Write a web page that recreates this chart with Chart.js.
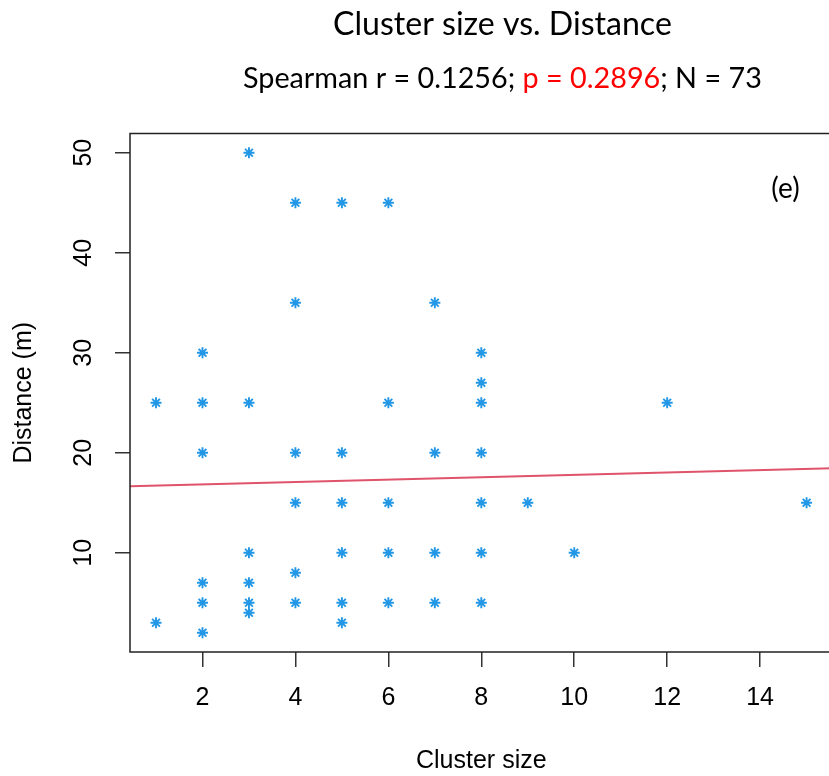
<!DOCTYPE html>
<html lang="en">
<head>
<meta charset="UTF-8">
<meta name="viewport" content="width=device-width, initial-scale=1.0">
<title>Cluster size vs. Distance</title>
<script src="https://cdn.jsdelivr.net/npm/chart.js"></script>
<style>
  html, body { margin: 0; padding: 0; overflow: hidden; background: #fff; }
  #wrap { width: 829px; height: 776px; overflow: hidden; }
</style>
</head>
<body>
<div id="wrap"><canvas id="clusterChart" width="840" height="776"></canvas></div>
<script>
// cluster size (x) and distance in m (y), one entry per visible point
const clusterSize = [1, 1,
  2, 2, 2, 2, 2, 2,
  3, 3, 3, 3, 3, 3,
  4, 4, 4, 4, 4, 4,
  5, 5, 5, 5, 5, 5,
  6, 6, 6, 6, 6,
  7, 7, 7, 7,
  8, 8, 8, 8, 8, 8, 8,
  9, 10, 12, 15];
const distance = [25, 3,
  30, 25, 20, 7, 5, 2,
  50, 25, 10, 7, 5, 4,
  45, 35, 20, 15, 8, 5,
  45, 20, 15, 10, 5, 3,
  45, 25, 15, 10, 5,
  35, 20, 10, 5,
  30, 27, 25, 20, 15, 10, 5,
  15, 10, 25, 15];

// fitted line, read at the left and right edge of the plot box
const fitX = [0.44, 15.56];
const fitY = [16.66, 18.44];

const xTickValues = [2, 4, 6, 8, 10, 12, 14];
const yTickValues = [10, 20, 30, 40, 50];

const titleText = 'Cluster size vs. Distance';
const subtitleParts = [
  { text: 'Spearman r = 0.1256; ', color: '#000000' },
  { text: 'p = 0.2896', color: '#FF0000' },
  { text: '; N = 73', color: '#000000' }
];
const panelTag = '(e)';

const points = clusterSize.map((x, i) => ({ x: x, y: distance[i] }));
const fitLine = fitX.map((x, i) => ({ x: x, y: fitY[i] }));

const headFont = 'Lato, "Open Sans", sans-serif';
const axisFont = '"Liberation Sans", Arial, sans-serif';

// font size that makes a line of text span the given width
function fitFontSize(ctx, text, width, base) {
  ctx.font = base + 'px ' + headFont;
  return base * width / ctx.measureText(text).width;
}

const decorPlugin = {
  id: 'decor',
  afterDraw(chart) {
    const ctx = chart.ctx;
    const a = chart.chartArea;
    ctx.save();
    // plot box
    ctx.strokeStyle = '#222';
    ctx.lineWidth = 1.5;
    ctx.strokeRect(a.left, a.top, a.right - a.left, a.bottom - a.top);

    // title
    ctx.textBaseline = 'alphabetic';
    ctx.textAlign = 'left';
    ctx.fillStyle = '#000';
    let size = fitFontSize(ctx, titleText, 339, 30);
    ctx.font = size + 'px ' + headFont;
    ctx.fillText(titleText, 333, 35);

    // subtitle with the p value in red
    const full = subtitleParts.map(p => p.text).join('');
    size = fitFontSize(ctx, full, 519, 30);
    ctx.font = size + 'px ' + headFont;
    let x = 243;
    subtitleParts.forEach(p => {
      ctx.fillStyle = p.color;
      ctx.fillText(p.text, x, 88);
      x += ctx.measureText(p.text).width;
    });

    // panel tag
    ctx.fillStyle = '#000';
    ctx.font = '28px ' + headFont;
    ctx.textAlign = 'center';
    ctx.fillText(panelTag, 785.5, 198);
    ctx.restore();
  }
};

const ctx = document.getElementById('clusterChart').getContext('2d');
new Chart(ctx, {
  type: 'scatter',
  data: {
    datasets: [
      {
        label: 'Distance',
        data: points,
        pointStyle: 'star',
        pointRadius: 5.5,
        pointBorderWidth: 1.9,
        borderColor: '#2297E6',
        backgroundColor: '#2297E6'
      },
      {
        type: 'line',
        label: 'Fit',
        data: fitLine,
        borderColor: '#DF536B',
        borderWidth: 2,
        pointRadius: 0,
        fill: false
      }
    ]
  },
  options: {
    responsive: false,
    animation: false,
    layout: { padding: { top: 133.5, left: 0, right: 4.5, bottom: 0 } },
    plugins: {
      legend: { display: false },
      tooltip: { enabled: false }
    },
    scales: {
      x: {
        type: 'linear',
        min: 0.44,
        max: 15.56,
        afterFit: s => { s.height = 124; },
        afterBuildTicks: s => { s.ticks = xTickValues.map(v => ({ value: v })); },
        border: { display: false },
        grid: { drawOnChartArea: false, drawTicks: true, tickLength: 15, color: '#333', lineWidth: 1.5 },
        ticks: { color: '#000', padding: 16, font: { family: axisFont, size: 25 } },
        title: { display: true, text: 'Cluster size', color: '#000', padding: { top: 0, bottom: 0 },
                 font: { family: axisFont, size: 25 } }
      },
      y: {
        type: 'linear',
        min: 0.08,
        max: 51.92,
        afterFit: s => { s.width = 130; },
        afterBuildTicks: s => { s.ticks = yTickValues.map(v => ({ value: v })); },
        border: { display: false },
        grid: { drawOnChartArea: false, drawTicks: true, tickLength: 15, color: '#333', lineWidth: 1.5 },
        ticks: { color: '#000', padding: 17, minRotation: 90, maxRotation: 90, crossAlign: 'center',
                 font: { family: axisFont, size: 25 } },
        title: { display: true, text: 'Distance (m)', color: '#000', padding: { top: 9, bottom: 0 },
                 font: { family: axisFont, size: 25 } }
      }
    }
  },
  plugins: [decorPlugin]
});
</script>
</body>
</html>
